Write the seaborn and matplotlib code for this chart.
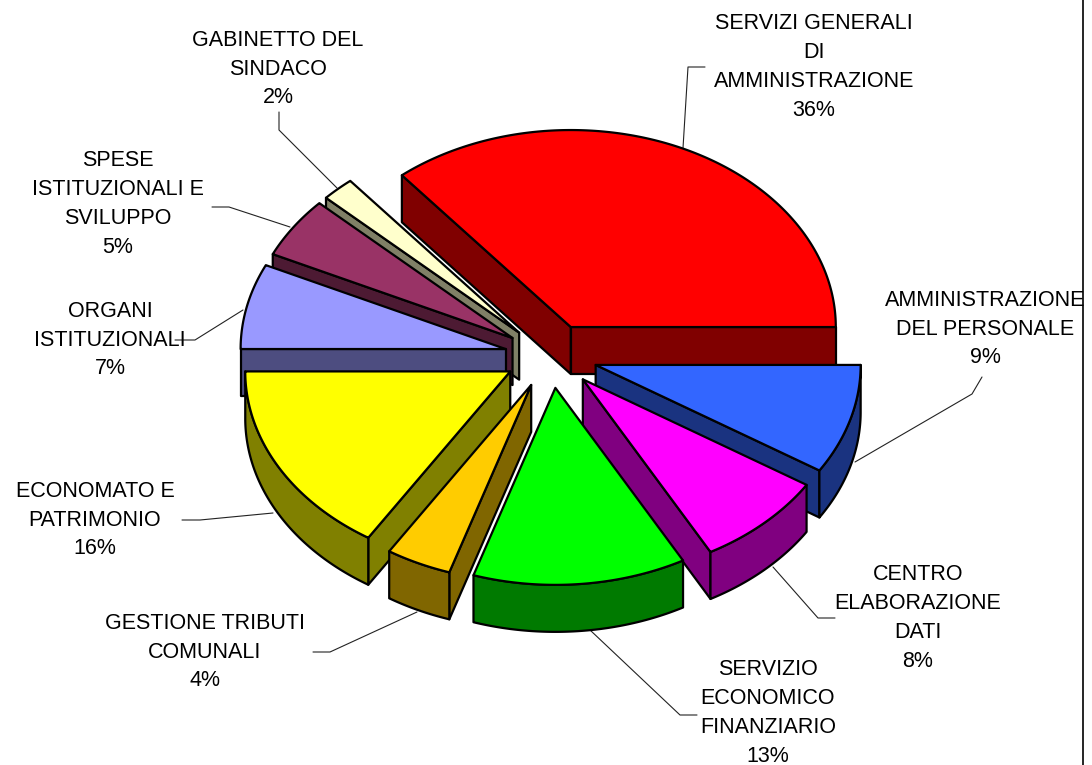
import numpy as np
import matplotlib
matplotlib.use("Agg")
import matplotlib.pyplot as plt
from matplotlib.patches import Polygon
import seaborn as sns

# ---------------- data ----------------
categories = [
    "SERVIZI GENERALI\nDI\nAMMINISTRAZIONE",
    "AMMINISTRAZIONE\nDEL PERSONALE",
    "CENTRO\nELABORAZIONE\nDATI",
    "SERVIZIO\nECONOMICO\nFINANZIARIO",
    "GESTIONE TRIBUTI\nCOMUNALI",
    "ECONOMATO E\nPATRIMONIO",
    "ORGANI\nISTITUZIONALI",
    "SPESE\nISTITUZIONALI E\nSVILUPPO",
    "GABINETTO DEL\nSINDACO",
]
values = [36, 9, 8, 13, 4, 16, 7, 5, 2]

# ---------------- style ----------------
top_colors = ["#FF0000", "#3366FF", "#FF00FF", "#00FF00", "#FFCC00",
              "#FFFF00", "#9999FF", "#993366", "#FFFFCC"]
side_colors = ["#800000", "#1A3380", "#800080", "#007A00", "#806600",
               "#808000", "#4D4D80", "#4D1A33", "#808066"]

# label block centres (pixels) and leader polylines (pixels)
label_pos = [(814, 67), (985, 329), (918, 618), (768, 713), (205, 652),
             (95, 520), (110, 340), (118, 204), (278, 69)]
leaders = [
    [(705, 67), (688, 67), (683, 148)],
    [(982, 377), (972, 394), (855, 462)],
    [(835, 618), (818, 618), (773, 567)],
    [(697, 715), (680, 715), (590, 630)],
    [(313, 652), (330, 652), (417, 612)],
    [(182, 520), (200, 520), (273, 513)],
    [(175, 340), (195, 340), (243, 310)],
    [(212, 207), (229, 207), (290, 227)],
    [(279, 112), (279, 130), (337, 188)],
]

sns.set_theme(style="white")
plt.rcParams["font.family"] = ["Liberation Sans", "DejaVu Sans"]

W, Hpx = 1092, 765
fig = plt.figure(figsize=(W / 100, Hpx / 100), dpi=100)
ax = fig.add_axes([0, 0, 1, 1])
ax.set_xlim(0, W)
ax.set_ylim(Hpx, 0)
ax.axis("off")

# geometry of the pseudo-3D pie (pixels)
cx, cy = 551, 356
R, RY = 265, 197
DX, DY = 46.5, 32
DEPTH = 47
EDGE = dict(edgecolor="black", linewidth=1.6, joinstyle="round")

total = float(sum(values))
spans = [360.0 * v / total for v in values]
a0 = spans[0]  # first slice ends at 0 deg (3 o'clock), slices run clockwise
his, los = [], []
cur = a0
for s in spans:
    his.append(cur)
    los.append(cur - s)
    cur -= s

mids = [(h + l) / 2 for h, l in zip(his, los)]
order = sorted(range(len(values)), key=lambda i: -np.sin(np.radians(mids[i])))


def arc(ox, oy, ths):
    return np.column_stack([ox + R * np.cos(ths), oy - RY * np.sin(ths)])


for rank, i in enumerate(order):
    hi, lo, m = np.radians(his[i]), np.radians(los[i]), np.radians(mids[i])
    ox = cx + DX * np.cos(m)
    oy = cy - DY * np.sin(m)
    base = 10 + rank * 3
    ths = np.linspace(lo, hi, 200)
    pts = arc(ox, oy, ths)
    down = np.array([0, DEPTH])
    # radial walls
    for ang, vis in ((hi, np.cos(hi) < -1e-9), (lo, np.cos(lo) > 1e-9)):
        if vis:
            p = arc(ox, oy, np.array([ang]))[0]
            poly = np.array([[ox, oy], p, p + down, [ox, oy] + down])
            ax.add_patch(Polygon(poly, closed=True, facecolor=side_colors[i],
                                 zorder=base, **EDGE))
    # outer curved wall (front-facing part)
    mask = np.sin(ths) <= 1e-9
    if mask.any():
        idx = np.where(mask)[0]
        groups = np.split(idx, np.where(np.diff(idx) > 1)[0] + 1)
        for g in groups:
            if len(g) < 2:
                continue
            t = pts[g]
            poly = np.vstack([t, (t + down)[::-1]])
            ax.add_patch(Polygon(poly, closed=True, facecolor=side_colors[i],
                                 zorder=base + 1, **EDGE))
    # top face
    top = np.vstack([[ox, oy], pts])
    ax.add_patch(Polygon(top, closed=True, facecolor=top_colors[i],
                         zorder=base + 2, **EDGE))

# labels and leader lines
for i, (lab, v) in enumerate(zip(categories, values)):
    x, y = label_pos[i]
    ax.text(x, y, f"{lab}\n{v}%", ha="center", va="center", fontsize=15.5,
            linespacing=1.48, color="black", zorder=100, multialignment="center")
    L = np.array(leaders[i])
    ax.plot(L[:, 0], L[:, 1], color="#222222", lw=0.8, zorder=5)

# chart-area border on the right
ax.plot([1083, 1083], [0, Hpx], color="black", lw=1.2, zorder=200)

fig.savefig("out.png", dpi=100)
